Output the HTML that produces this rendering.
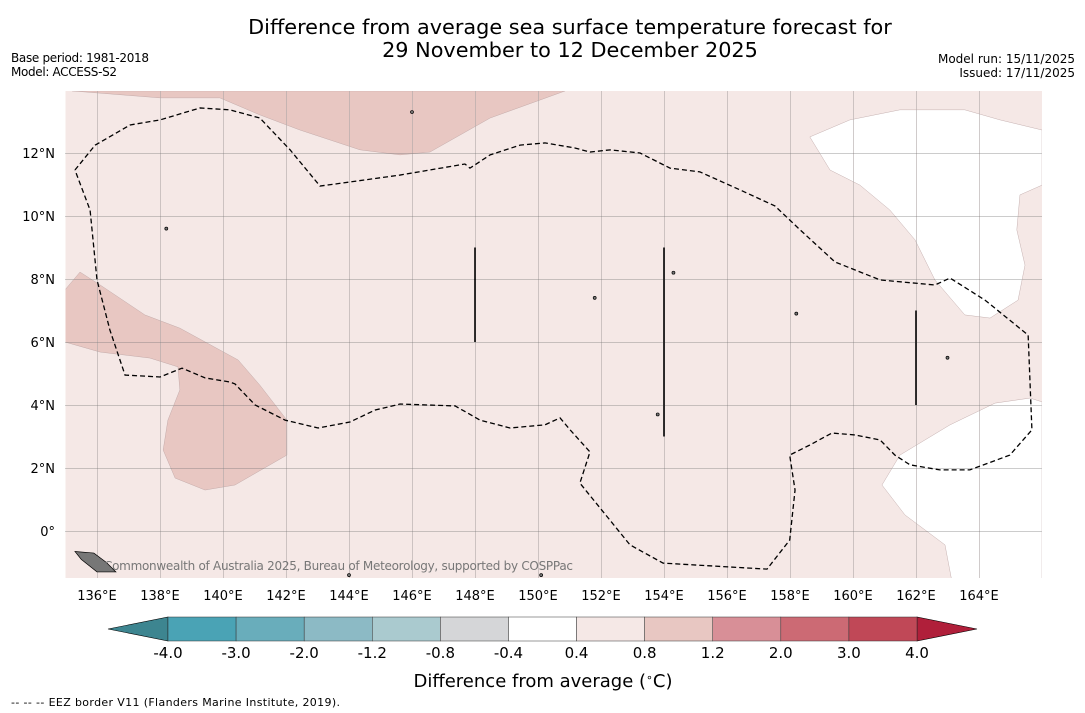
<!DOCTYPE html>
<html><head><meta charset="utf-8"><style>
body{margin:0;background:#fff;width:1085px;height:713px;overflow:hidden;font-family:"DejaVu Sans","Liberation Sans",sans-serif}
svg{display:block}
.sm{font-size:12px}
</style></head><body>
<svg id="chart" width="1085" height="713" xmlns="http://www.w3.org/2000/svg">
<text x="570" y="34" font-size="20.8" text-anchor="middle">Difference from average sea surface temperature forecast for</text>
<text x="570" y="57" font-size="20.8" text-anchor="middle">29 November to 12 December 2025</text>
<text class="sm" x="11" y="62" textLength="138">Base period: 1981-2018</text>
<text class="sm" x="11" y="76" textLength="106">Model: ACCESS-S2</text>
<text class="sm" x="1075" y="63" text-anchor="end">Model run: 15/11/2025</text>
<text class="sm" x="1075" y="77" text-anchor="end">Issued: 17/11/2025</text>
<defs><clipPath id="mc"><rect x="65.5" y="91" width="976.5" height="487"/></clipPath></defs>
<g id="map" clip-path="url(#mc)">
<rect x="65.5" y="91" width="976.5" height="487" fill="#f5e8e6"/>
</g>
<g id="xt"></g><g id="yt"></g>
<text x="104" y="570" font-size="12" fill="#777" textLength="469">Commonwealth of Australia 2025, Bureau of Meteorology, supported by COSPPac</text>
<g id="cb"></g>
<text x="543" y="687" font-size="18" text-anchor="middle">Difference from average (<tspan font-size="11" dy="-6">∘</tspan><tspan dy="6">C)</tspan></text>
<text x="11" y="706" font-size="11" textLength="329">--  --  -- EEZ border V11 (Flanders Marine Institute, 2019).</text>
</svg>
<script>
const lonTicks=[136,138,140,142,144,146,148,150,152,154,156,158,160,162,164];
const latTicks=[0,2,4,6,8,10,12];
const cbLevels=[-4.0,-3.0,-2.0,-1.2,-0.8,-0.4,0.4,0.8,1.2,2.0,3.0,4.0];
const cbColors=["#4aa3b5","#69adbb","#8cbac5","#aacacf","#d5d6d8","#ffffff","#f5e8e6","#e8c7c2","#d88f97","#cc6a74","#c04857"];
const topWarm=[[135.21,13.97],[138.0,13.75],[139.9,13.75],[141.17,13.21],[142.44,12.73],[144.35,12.10],[145.62,11.94],[146.57,12.03],[148.48,13.11],[150.06,13.68],[150.86,13.97]];
const leftWarm=[[134.98,7.65],[135.46,8.22],[136.1,7.81],[137.52,6.86],[138.63,6.44],[140.48,5.43],[141.17,4.63],[142.03,3.52],[142.03,2.41],[140.38,1.46],[139.43,1.30],[138.48,1.68],[138.1,2.57],[138.25,3.52],[138.63,4.48],[138.57,5.21],[137.68,5.49],[136.1,5.68],[134.98,6.0]];
const whiteNE=[[158.63,12.51],[159.9,13.05],[161.49,13.37],[163.55,13.37],[164.67,13.05],[166.0,12.73],[166.0,10.98],[165.3,10.67],[165.2,9.56],[165.46,8.44],[165.24,7.33],[164.35,6.76],[163.55,6.86],[162.6,7.97],[161.97,9.24],[161.17,10.19],[160.22,10.98],[159.27,11.46]];
const whiteSE=[[166.0,4.10],[165.62,4.22],[164.51,4.06],[163.08,3.37],[161.49,2.41],[160.92,1.46],[161.65,0.51],[162.92,-0.44],[163.14,-1.6],[166.0,-1.6]];
const eezLon=[135.30,135.94,137.05,138.0,139.27,140.22,141.17,142.13,143.08,144.03,145.62,147.68,147.84,148.48,149.43,150.22,151.17,151.65,152.29,153.24,154.19,155.14,156.41,157.52,158.32,159.43,160.86,162.6,163.08,164.19,165.56,165.68,164.98,163.71,162.76,161.81,161.33,160.86,160.06,159.33,158.63,157.99,158.16,157.99,157.27,153.97,152.92,151.33,151.65,151.02,150.7,150.22,149.11,148.16,147.37,145.62,144.83,144.03,143.02,141.97,141.02,140.38,140.22,139.43,138.7,138.0,136.89,136.41,136.0,135.78,135.30];
const eezLat=[11.46,12.25,12.89,13.05,13.43,13.37,13.11,12.10,10.95,11.08,11.30,11.65,11.52,11.94,12.25,12.32,12.16,12.03,12.10,12.0,11.52,11.40,10.83,10.32,9.56,8.54,7.97,7.81,8.03,7.33,6.22,3.21,2.41,1.94,1.94,2.10,2.41,2.89,3.05,3.11,2.73,2.41,1.30,-0.29,-1.21,-1.02,-0.44,1.52,2.51,3.21,3.59,3.37,3.27,3.52,3.97,4.03,3.84,3.46,3.27,3.52,4.0,4.67,4.73,4.86,5.17,4.89,4.95,6.38,7.97,10.19,11.46];
const segLon=[148,154,162];const segLat0=[6,3,4];const segLat1=[9,9,7];
const islands=[[146.0,13.3],[138.2,9.6],[153.8,3.7],[154.3,8.2],[151.8,7.4],[158.2,6.9],[163.0,5.5],[150.1,-1.4],[144.0,-1.4]];
const X=lon=>65.5+(lon-135)*31.5, Y=lat=>531-lat*31.5;
const NS="http://www.w3.org/2000/svg";
function mk(t,a,p){const e=document.createElementNS(NS,t);for(const k in a)e.setAttribute(k,a[k]);p.appendChild(e);return e;}
const map=document.getElementById('map');
function poly(pts,fill,name){const p=mk('polygon',{points:pts.map(q=>X(q[0])+','+Y(q[1])).join(' '),fill:fill,stroke:'#b8a0a0','stroke-width':0.4},map);

}
poly(topWarm,'#e8c7c2','warm-region-north');
poly(leftWarm,'#e8c7c2','warm-region-west');
poly(whiteNE,'#ffffff','neutral-region-northeast');
poly(whiteSE,'#ffffff','neutral-region-southeast');
lonTicks.forEach(l=>{const g=mk('line',{x1:Math.round(X(l))+0.5,x2:Math.round(X(l))+0.5,y1:91,y2:578,stroke:'#b0a8a8','stroke-width':0.6},map);

});
latTicks.forEach(l=>{const g=mk('line',{x1:65.5,x2:1042,y1:Math.round(Y(l))+0.5,y2:Math.round(Y(l))+0.5,stroke:'#777','stroke-width':0.8,'stroke-dasharray':'1,1'},map);

});
const eez=mk('polyline',{points:eezLon.map((l,i)=>X(l)+','+Y(eezLat[i])).join(' '),fill:'none',stroke:'#000','stroke-width':1.3,'stroke-dasharray':'5,3'},map);


segLon.forEach((l,i)=>{const s=mk('line',{x1:X(l),x2:X(l),y1:Y(segLat0[i]),y2:Y(segLat1[i]),stroke:'#000','stroke-width':1.6},map);

});
islands.forEach(q=>{const c=mk('circle',{cx:X(q[0]),cy:Y(q[1]),r:1.5,fill:'#777',stroke:'#000','stroke-width':0.7},map);

});
const png=mk('polygon',{points:[[135.3,-0.65],[135.9,-0.7],[136.3,-1.0],[136.6,-1.3],[136.0,-1.3],[135.5,-0.9]].map(q=>X(q[0])+','+Y(q[1])).join(' '),fill:'#777',stroke:'#000','stroke-width':0.7},map);


const xt=document.getElementById('xt');
lonTicks.forEach(l=>{const t=mk('text',{x:X(l),y:600,'font-size':13,'text-anchor':'middle'},xt);t.textContent=l+'°E';

});
const yt=document.getElementById('yt');
latTicks.forEach(l=>{const t=mk('text',{x:55,y:Y(l)+5,'font-size':13,'text-anchor':'end'},yt);t.textContent=l===0?'0°':l+'°N';

});
const cb=document.getElementById('cb');
const cx0=168,cx1=917,cy=617,ch=24,sw=(cx1-cx0)/(cbLevels.length-1);
const lt=mk('polygon',{points:`108,${cy+ch/2} ${cx0},${cy} ${cx0},${cy+ch}`,fill:'#3d8590',stroke:'#000','stroke-width':0.6},cb);


const rt=mk('polygon',{points:`977,${cy+ch/2} ${cx1},${cy} ${cx1},${cy+ch}`,fill:'#b01f3a',stroke:'#000','stroke-width':0.6},cb);


cbColors.forEach((c,i)=>{const r=mk('rect',{x:cx0+i*sw,y:cy,width:sw,height:ch,fill:c,stroke:'#333','stroke-width':0.5},cb);

});
cbLevels.forEach((v,i)=>{const t=mk('text',{x:cx0+i*sw,y:658,'font-size':15,'text-anchor':'middle'},cb);t.textContent=v.toFixed(1);

});
</script>
</body></html>
